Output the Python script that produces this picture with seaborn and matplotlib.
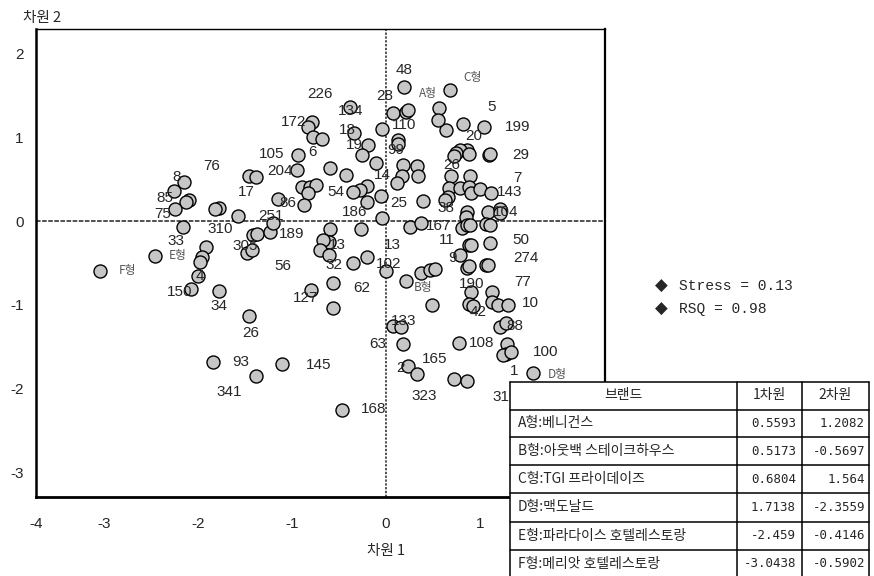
import matplotlib
matplotlib.use("Agg")
import matplotlib.pyplot as plt
import pandas as pd
import seaborn as sns

# ---- respondent coordinates (MDS solution) ----
resp_dim1 = [
    -2.15, -2.25, -2.09, -2.13, -2.24, -2.16, -1.91, -1.96, -1.98, -2.00, -2.07, -1.77,
    -1.77, -1.82, -1.46, -1.38, -1.57, -1.41, -1.37, -1.48, -1.42, -1.23, -1.15, -1.20,
    -1.45, -1.84, -1.10, -1.38,
    -0.93, -0.94, -0.89, -0.79, -0.83, -0.77, -0.68, -0.81, -0.74, -0.83, -0.87, -0.59,
    -0.42, -0.38, -0.34, -0.19, -0.25, -0.11, -0.04, -0.20, -0.28, -0.35, -0.20, -0.05,
    -0.04, -0.59, -0.26, -0.60, -0.67, -0.70, -0.60, -0.35, -0.20, 0.00, -0.56, -0.56,
    -0.80, -0.47,
    0.19, 0.08, 0.21, 0.24, 0.13, 0.13, 0.18, 0.17, 0.12, 0.33, 0.34, 0.40,
    0.26, 0.37, 0.21, 0.37, 0.47, 0.49, 0.08, 0.16, 0.18, 0.24, 0.33, 0.72,
    0.86, 0.78,
    0.57, 0.64, 0.82, 1.04, 0.86, 0.79, 0.75, 0.72, 0.88, 1.10, 1.11, 0.69,
    0.67, 0.66, 0.63, 0.89, 0.79, 0.88, 0.90, 1.00, 1.12, 0.86, 0.85, 1.09,
    1.21, 1.21, 0.81, 0.86, 0.89, 1.07, 1.11, 0.88, 0.91, 1.11, 0.79, 0.86,
    0.88, 1.07, 1.09, 0.91, 0.88, 0.93, 1.13, 1.13, 1.19, 1.30, 1.21, 1.28,
    1.29, 1.28, 1.25, 1.33, 1.56,
]
resp_dim2 = [
    0.46, 0.36, 0.25, 0.23, 0.14, -0.07, -0.31, -0.43, -0.49, -0.66, -0.81, -0.83,
    0.16, 0.14, 0.54, 0.52, 0.06, -0.17, -0.16, -0.38, -0.35, -0.13, 0.26, -0.02,
    -1.13, -1.68, -1.70, -1.84,
    0.79, 0.61, 0.40, 1.18, 1.12, 1.00, 0.98, 0.41, 0.43, 0.33, 0.19, 0.63,
    0.55, 1.36, 1.05, 0.90, 0.79, 0.69, 1.10, 0.42, 0.37, 0.35, 0.23, 0.30,
    0.03, -0.09, -0.10, -0.25, -0.23, -0.35, -0.40, -0.50, -0.43, -0.60, -0.74, -1.04,
    -0.82, -2.25,
    1.60, 1.28, 1.30, 1.32, 0.96, 0.92, 0.67, 0.53, 0.45, 0.65, 0.53, 0.24,
    -0.07, -0.02, -0.71, -0.62, -0.58, -1.00, -1.25, -1.26, -1.46, -1.73, -1.82, -1.88,
    -1.91, -1.45,
    1.34, 1.08, 1.16, 1.12, 0.85, 0.85, 0.81, 0.77, 0.80, 0.79, 0.80, 0.53,
    0.39, 0.29, 0.25, 0.53, 0.39, 0.41, 0.33, 0.38, 0.33, 0.11, 0.05, 0.11,
    0.14, 0.09, -0.08, -0.05, -0.05, -0.04, -0.05, -0.29, -0.29, -0.26, -0.40, -0.56,
    -0.54, -0.52, -0.52, -0.85, -0.99, -1.01, -0.84, -0.96, -1.00, -1.00, -1.26, -1.22,
    -1.46, -1.58, -1.60, -1.56, -1.81,
]

# ---- respondent ID labels and where they sit ----
id_text = ['48', '226', '28', '5', '199', '134', '172', '110', '18', '19', '99', '6',
           '105', '20', '29', '204', '26', '14', '7', '76', '8', '17', '54', '143',
           '86', '85', '25', '38', '186', '104', '75', '251', '167', '310', '189', '50',
           '13', '11', '33', '13', '305', '274', '9', '56', '32', '102', '4', '62',
           '190', '77', '127', '150', '34', '42', '10', '133', '88', '26', '63', '108',
           '100', '93', '145', '165', '1', '2', '341', '323', '319', '168']
id_x = [0.19, -0.70, -0.01, 1.12, 1.40, -0.38, -0.98, 0.19, -0.41, -0.34, 0.10, -0.78,
        -1.21, 0.93, 1.43, -1.13, 0.70, -0.04, 1.40, -1.85, -2.23, -1.48, -0.53, 1.32,
        -1.04, -2.35, 0.14, 0.64, -0.33, 1.27, -2.37, -1.22, 0.56, -1.76, -1.00, 1.43,
        0.07, 0.65, -2.23, -0.52, -1.50, 1.49, 0.71, -1.10, -0.55, 0.03, -1.98, -0.26,
        0.91, 1.45, -0.85, -2.19, -1.77, 0.98, 1.54, 0.19, 1.37, -1.44, -0.09, 1.02,
        1.70, -1.54, -0.72, 0.52, 1.36, 0.16, -1.67, 0.41, 1.27, -0.13]
id_y = [1.80, 1.51, 1.49, 1.36, 1.12, 1.31, 1.18, 1.14, 1.08, 0.90, 0.85, 0.82,
        0.80, 1.01, 0.79, 0.60, 0.67, 0.55, 0.51, 0.65, 0.52, 0.35, 0.35, 0.35,
        0.21, 0.27, 0.21, 0.15, 0.11, 0.11, 0.08, 0.06, -0.06, -0.10, -0.15, -0.23,
        -0.29, -0.23, -0.24, -0.29, -0.30, -0.44, -0.44, -0.54, -0.52, -0.51, -0.65, -0.80,
        -0.75, -0.73, -0.92, -0.85, -1.01, -1.08, -0.98, -1.19, -1.25, -1.33, -1.46, -1.45,
        -1.56, -1.68, -1.71, -1.64, -1.79, -1.75, -2.04, -2.08, -2.10, -2.24]

# ---- brand coordinates (also listed in the table) ----
brand_code = ['A형', 'B형', 'C형', 'D형', 'E형', 'F형']
brand_name = ['베니건스', '아웃백 스테이크하우스', 'TGI 프라이데이즈', '맥도날드',
              '파라다이스 호텔레스토랑', '메리앗 호텔레스토랑']
brand_dim1 = [0.5593, 0.5173, 0.6804, 1.7138, -2.459, -3.0438]
brand_dim2 = [1.2082, -0.5697, 1.564, -2.3559, -0.4146, -0.5902]

fit_lines = ['Stress = 0.13', 'RSQ = 0.98']

# the left edge of the frame carries the "-4" label
x_ticks = [-3.72, -3, -2, -1, 0, 1]
x_tick_labels = ['-4', '-3', '-2', '-1', '0', '1']
y_ticks = [-3, -2, -1, 0, 1, 2]

# ---- styling ----
sns.set_style('white')
plt.rcParams['font.family'] = ['Liberation Sans Narrow', 'Liberation Sans', 'DejaVu Sans']
plt.rcParams['axes.unicode_minus'] = False
KR = ['Noto Sans CJK KR', 'DejaVu Sans']
NUM = ['Liberation Sans Narrow', 'Liberation Sans', 'DejaVu Sans']
MONO = ['DejaVu Sans Mono', 'Liberation Mono']

fig = plt.figure(figsize=(8.74, 5.76), dpi=100)
ax = fig.add_axes([36 / 874, 1 - 497 / 576, 569 / 874, 468 / 576])

resp = pd.DataFrame({'dim1': resp_dim1, 'dim2': resp_dim2})
brands = pd.DataFrame({'dim1': brand_dim1, 'dim2': brand_dim2, 'code': brand_code})

ax.axhline(0, color='#222222', lw=1.1, ls=(0, (3, 1)), zorder=1)
ax.axvline(0, color='#222222', lw=1.1, ls=(0, (1.5, 1)), zorder=1)

point_style = dict(s=88, color='#c6c6c6', edgecolor='black', linewidth=1.0, legend=False, zorder=3)
sns.scatterplot(data=resp, x='dim1', y='dim2', ax=ax, **point_style)
sns.scatterplot(data=brands, x='dim1', y='dim2', ax=ax, **point_style)

for t, x, y in zip(id_text, id_x, id_y):
    ax.text(x, y, t, ha='center', va='center', fontsize=11, family=NUM, zorder=4)

# brand tags sit beside their markers
brand_offsets = [(-7.5, 19), (-8.5, -13.5), (16.5, 8.5), (7, 32), (16.5, 0), (20, 0)]
for code, x, y, off in zip(brand_code, brand_dim1, brand_dim2, brand_offsets):
    ax.annotate(code, (x, y), xytext=off, textcoords='offset points',
                ha='center', va='center', fontsize=8.5, family=KR, color='#555555', zorder=4)

ax.set_xlim(-3.72, 2.33)
ax.set_ylim(-3.286, 2.286)
ax.set_xticks(x_ticks)
ax.set_xticklabels(x_tick_labels)
ax.set_yticks(y_ticks)
ax.set_yticklabels([str(v) for v in y_ticks])
ax.tick_params(axis='x', direction='out', length=9.5, width=1.2, pad=5, labelsize=11, color='black')
ax.tick_params(axis='y', direction='out', length=6, width=1.0, pad=3, labelsize=11, color='black')
ax.set_xlabel('')
ax.set_ylabel('')
for side, lw in (('left', 1.8), ('bottom', 2.0), ('right', 1.6), ('top', 1.0)):
    ax.spines[side].set_visible(True)
    ax.spines[side].set_color('black')
    ax.spines[side].set_linewidth(lw)

fig.text(42 / 874, 1 - 18 / 576, '차원 2', ha='center', va='center', fontsize=10.5, family=KR)
fig.text(386 / 874, 1 - 551 / 576, '차원 1', ha='center', va='center', fontsize=10.5, family=KR)

# fit statistics
for i, line in enumerate(fit_lines):
    yy = 1 - (286 + 23 * i) / 576
    fig.text(661 / 874, yy, '◆', ha='center', va='center', fontsize=12, family=['DejaVu Sans'])
    fig.text(679 / 874, yy, line, ha='left', va='center', fontsize=10.5,
             family=['Liberation Mono', 'DejaVu Sans Mono'])

# coordinate table in the lower right corner
tax = fig.add_axes([510 / 874, 0, 364 / 874, 194 / 576])
tax.set_zorder(5)
tax.set_xlim(0, 364)
tax.set_ylim(194, 0)
tax.axis('off')
tax.add_patch(plt.Rectangle((0, 0), 359, 196, facecolor='white', edgecolor='none'))
row_lines = [0, 27.5, 55.3, 83.0, 111.3, 139.5, 167.7, 195.5]
col_lines = [0, 227, 292, 359]
for yv in row_lines:
    tax.plot([0, 359], [yv, yv], color='black', lw=1.1, clip_on=False)
for xv in col_lines:
    tax.plot([xv, xv], [0, 196], color='black', lw=1.1, clip_on=False)

tax.text(113.5, 13.5, '브랜드', ha='center', va='center', fontsize=10, family=KR)
tax.text(259.5, 13.5, '1차원', ha='center', va='center', fontsize=10, family=KR)
tax.text(325.5, 13.5, '2차원', ha='center', va='center', fontsize=10, family=KR)
for i, (code, name, d1, d2) in enumerate(zip(brand_code, brand_name, brand_dim1, brand_dim2)):
    yc = (row_lines[i + 1] + row_lines[i + 2]) / 2
    tax.text(8, yc, f'{code}:{name}', ha='left', va='center', fontsize=10, family=KR)
    tax.text(286, yc, f'{d1}', ha='right', va='center', fontsize=9, family=MONO)
    tax.text(355, yc, f'{d2}', ha='right', va='center', fontsize=9, family=MONO)

fig.savefig('out.png', dpi=100, facecolor='white')
